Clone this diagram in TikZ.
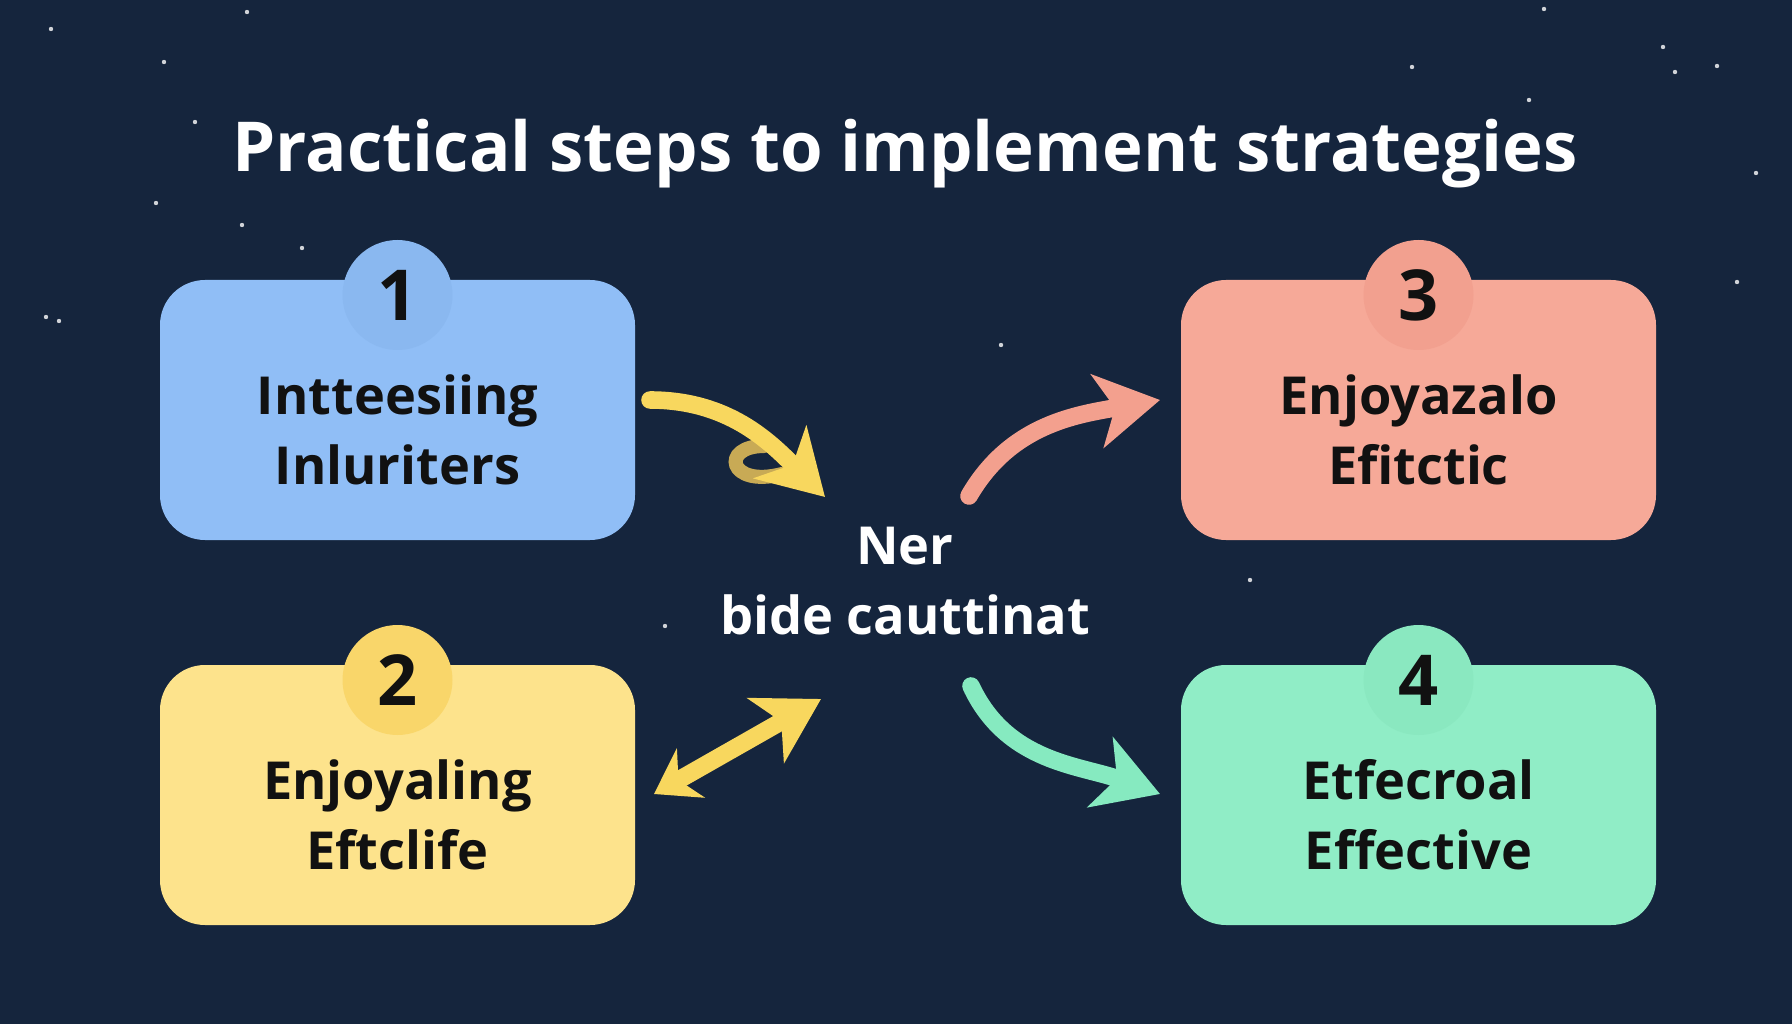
\documentclass[tikz,border=0pt]{standalone}
\usepackage{fontspec}
\setmainfont{Open Sans}
\usepackage{xcolor}
\usetikzlibrary{arrows.meta}
\definecolor{bgnavy}{HTML}{15253D}
\definecolor{stepblue}{HTML}{90BEF6}
\definecolor{stepblueb}{HTML}{8AB8F0}
\definecolor{stepyellow}{HTML}{FDE38C}
\definecolor{stepyellowb}{HTML}{F9D66A}
\definecolor{stepred}{HTML}{F6A998}
\definecolor{stepredb}{HTML}{F2A08F}
\definecolor{stepgreen}{HTML}{90EDC6}
\definecolor{stepgreenb}{HTML}{8AE8C0}
\definecolor{arrowyel}{HTML}{F8D75E}
\definecolor{arrowcurl}{HTML}{C8AA55}
\definecolor{arrowred}{HTML}{F3A08E}
\definecolor{arrowgreen}{HTML}{86EAC0}
\definecolor{inkblack}{HTML}{111111}
\tikzset{
  card/.style={rectangle,rounded corners=0.45cm,minimum width=4.75cm,minimum height=2.6cm,inner sep=0pt},
  badge/.style={circle,minimum size=1.1cm,inner sep=0pt,text=inkblack,font=\fontsize{20}{24}\selectfont\bfseries},
  cardtext/.style={align=center,inner sep=0pt,text=inkblack,font=\fontsize{14.9}{20}\selectfont\bfseries},
  flow/.style={line width=5pt,line cap=round,-{Stealth[length=18pt,width=21pt,inset=5pt]}},
  star/.style={fill=white,opacity=0.8},
}

\begin{document}
\begin{tikzpicture}
\fill[bgnavy] (0,0) rectangle (17.92,10.24);
\useasboundingbox (0,0) rectangle (17.92,10.24);
\foreach \sx/\sy in {51/29,164/62,247/12,195/122,156/203,242/225,302/248,59/321,46/317,1544/9,1663/47,1675/72,1717/66,1412/67,1529/100,1737/282,1001/345,665/626,1250/580,1756/173}
  \fill[star] ({\sx/100},{(1024-\sy)/100}) circle (0.022);
\node[white,anchor=base,font=\fontsize{19.6}{24}\selectfont\bfseries] (title) at (9.05,8.52) {Practical steps to implement strategies};
\node[card,fill=stepblue] (b1) at (3.975,6.14) {};
\node[card,fill=stepyellow] (b2) at (3.975,2.29) {};
\node[card,fill=stepred] (b3) at (14.185,6.14) {};
\node[card,fill=stepgreen] (b4) at (14.185,2.29) {};
\node[badge,fill=stepblueb] (n1) at (3.975,7.29) {1};
\node[badge,fill=stepyellowb] (n2) at (3.975,3.44) {2};
\node[badge,fill=stepredb] (n3) at (14.185,7.29) {3};
\node[badge,fill=stepgreenb] (n4) at (14.185,3.44) {4};
\node[cardtext] (t1) at (3.975,5.94) {Intteesiing\\Inluriters};
\node[cardtext] (t2) at (3.975,2.09) {Enjoyaling\\Eftclife};
\node[cardtext] (t3) at (14.185,5.94) {Enjoyazalo\\Efitctic};
\node[cardtext] (t4) at (14.185,2.09) {Etfecroal\\Effective};
\node[cardtext,text=white] (mid) at (9.05,4.43) {Ner\\bide cauttinat};
\coordinate (y1) at (6.50,6.24);
\coordinate (y2) at (8.25,5.27);
\coordinate (y3) at (6.54,2.30);
\coordinate (y4) at (8.21,3.25);
\coordinate (r1) at (9.69,5.28);
\coordinate (r2) at (11.60,6.24);
\coordinate (g1) at (9.71,3.38);
\coordinate (g2) at (11.60,2.30);
\draw[line width=4pt,line cap=round,arrowcurl] (7.64,5.78) .. controls (7.20,5.78) and (7.28,5.36) .. (7.82,5.50);
\draw[flow,arrowyel] (y1) to[out=0,in=135] (y2);
\draw[flow,arrowyel,{Stealth[length=12pt,width=16pt,inset=4pt]}-{Stealth[length=18pt,width=21pt,inset=5pt]}] (y3) -- (y4);
\draw[flow,arrowred] (r1) to[out=60,in=190] (r2);
\draw[flow,arrowgreen] (g1) to[out=-65,in=160] (g2);
\end{tikzpicture}
\end{document}
